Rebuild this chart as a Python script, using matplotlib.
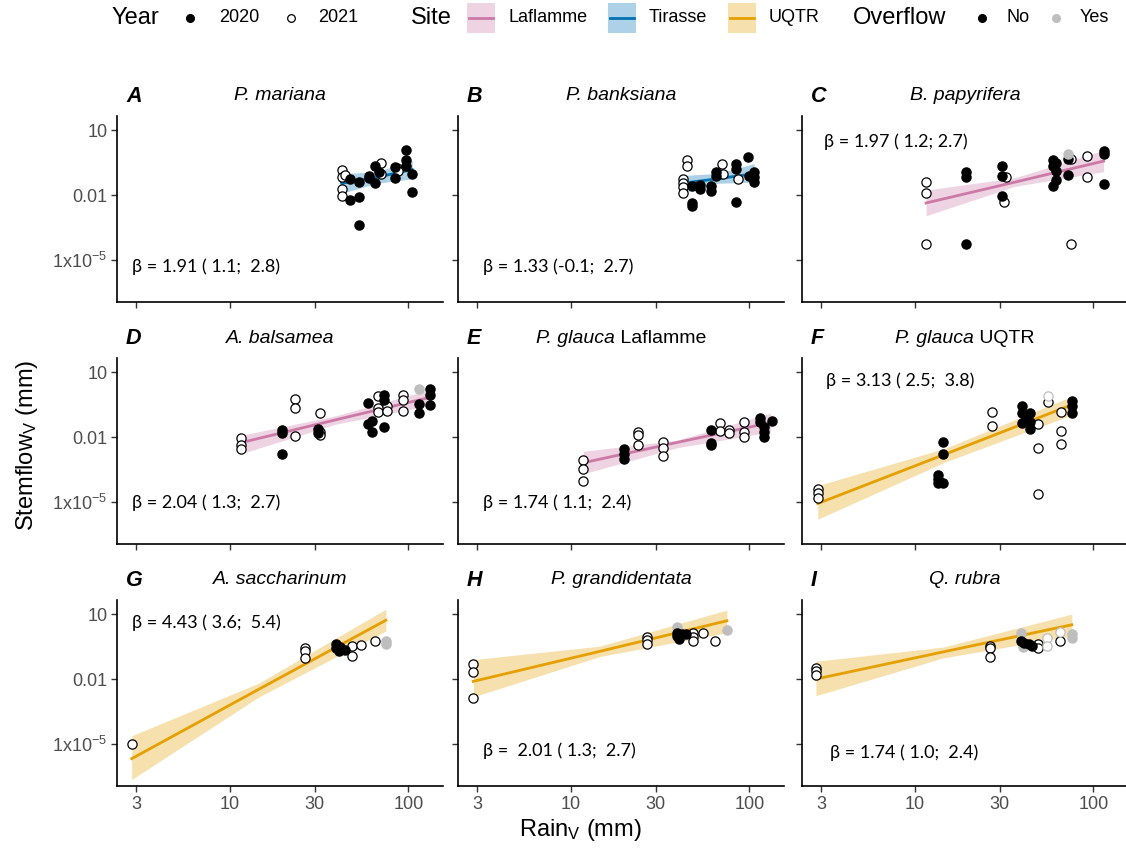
import matplotlib
matplotlib.use('Agg')
import matplotlib.pyplot as plt
from matplotlib.lines import Line2D
from matplotlib.patches import Rectangle
from matplotlib.ticker import NullLocator

plt.rcParams['font.family'] = ['Liberation Sans', 'DejaVu Sans']
plt.rcParams['mathtext.fontset'] = 'custom'
plt.rcParams['mathtext.rm'] = 'Liberation Sans'
plt.rcParams['mathtext.it'] = 'Liberation Sans:italic'
plt.rcParams['mathtext.default'] = 'regular'

SITE_COLORS = {'Laflamme': '#CC79A7', 'Tirasse': '#0072B2', 'UQTR': '#E69F00'}
GRAY = '#BEBEBE'

# --- A: P. mariana (Tirasse)
a_rain = [42.3, 42.3, 44.0, 42.3, 42.3, 70.5, 70.5, 86.1, 87.9,
          47.4, 52.7, 47.4, 52.7, 52.7, 60.4, 60.4, 65.3, 65.3, 68.1, 83.6, 83.6, 96.6, 96.6, 96.6, 105, 105]
a_flow = [0.146, 0.066, 0.085, 0.019, 0.0093, 0.31, 0.095, 0.18, 0.135,
          0.054, 0.042, 0.0059, 0.0078, 0.0004, 0.079, 0.062, 0.21, 0.037, 0.114, 0.195, 0.062, 1.17, 0.43, 0.21, 0.096, 0.014]
a_year = [2021] * 9 + [2020] * 17
a_over = [0] * 26
a_fit_x = [42.3, 66.7, 105]
a_fit = [0.035, 0.066, 0.15]
a_lo = [0.012, 0.035, 0.056]
a_hi = [0.096, 0.12, 0.40]

# --- B: P. banksiana (Tirasse)
b_rain = [44.5, 44.5, 42.3, 42.3, 42.3, 42.3, 70.5, 71, 86.5,
          48, 48, 48, 52.7, 52.7, 60.7, 60.7, 64.7, 64.7, 83.6, 83.6, 83.6, 97.9, 106, 106, 106, 99]
b_flow = [0.43, 0.23, 0.056, 0.035, 0.023, 0.012, 0.28, 0.095, 0.056,
          0.027, 0.0032, 0.0041, 0.030, 0.019, 0.027, 0.016, 0.115, 0.072, 0.26, 0.16, 0.005, 0.57, 0.12, 0.066, 0.039, 0.079]
b_year = [2021] * 9 + [2020] * 17
b_over = [0] * 26
b_fit_x = [42.3, 66.7, 106]
b_fit = [0.035, 0.057, 0.096]
b_lo = [0.012, 0.035, 0.039]
b_hi = [0.08, 0.10, 0.28]

# --- C: B. papyrifera (Laflamme)
c_rain = [11.6, 11.6, 11.6, 32.3, 31.8, 75.2, 74.6, 91.8, 91.8,
          19.5, 19.5, 19.5, 31, 31, 31, 59.4, 59.4, 59.4, 62.1, 62.1, 62.1, 72, 72, 114, 114, 114,
          72]
c_flow = [0.039, 0.012, 5.7e-5, 0.071, 0.0046, 0.44, 5.7e-5, 0.61, 0.071,
          0.115, 0.066, 5.7e-5, 0.22, 0.079, 0.0093, 0.43, 0.23, 0.027, 0.30, 0.135, 0.05, 0.44, 0.085, 1.1, 0.76, 0.032,
          0.76]
c_year = [2021] * 9 + [2020] * 17 + [2020]
c_over = [0] * 26 + [1]
c_fit_x = [11.6, 36.2, 114]
c_fit = [0.0043, 0.039, 0.37]
c_lo = [0.0011, 0.025, 0.12]
c_hi = [0.017, 0.062, 1.17]

# --- D: A. balsamea (Laflamme)
d_rain = [11.6, 11.6, 11.6, 23.3, 23.3, 23.3, 32.1, 32.1, 32.1, 68, 68, 68, 75.7, 75.7, 93, 93, 93,
          19.6, 19.6, 19.6, 31.4, 31.4, 59.8, 59.8, 62.4, 62.4, 73.1, 73.1, 73.1, 115, 115, 132, 132, 132,
          115]
d_flow = [0.0091, 0.0045, 0.0029, 0.59, 0.23, 0.011, 0.126, 0.017, 0.012, 0.76, 0.23, 0.15, 0.26, 0.16, 0.91, 0.53, 0.16,
          0.021, 0.015, 0.0017, 0.023, 0.015, 0.37, 0.039, 0.055, 0.017, 0.85, 0.53, 0.030, 0.35, 0.126, 1.7, 0.85, 0.31,
          1.66]
d_year = [2021] * 17 + [2020] * 17 + [2020]
d_over = [0] * 34 + [1]
d_fit_x = [11.6, 39.1, 132]
d_fit = [0.0055, 0.062, 0.68]
d_lo = [0.0017, 0.039, 0.29]
d_hi = [0.012, 0.095, 1.55]

# --- E: P. glauca Laflamme
e_rain = [11.8, 11.8, 11.8, 23.7, 23.7, 23.7, 32.7, 32.7, 32.7, 68.4, 68.4, 76.7, 76.7, 93.8, 93.8, 93.8,
          19.8, 19.8, 19.8, 60.7, 60.7, 60.7, 115, 115, 120, 120, 120, 134]
e_flow = [0.00083, 0.00035, 9.1e-5, 0.018, 0.013, 0.0045, 0.006, 0.003, 0.0013, 0.046, 0.019, 0.021, 0.015, 0.052, 0.017, 0.010,
          0.0027, 0.0017, 0.001, 0.021, 0.0055, 0.0045, 0.079, 0.052, 0.030, 0.017, 0.010, 0.055]
e_year = [2021] * 16 + [2020] * 12
e_over = [0] * 28
e_fit_x = [11.8, 39.3, 131]
e_fit = [0.00065, 0.0056, 0.046]
e_lo = [0.0002, 0.0032, 0.017]
e_hi = [0.0022, 0.0071, 0.126]

# --- F: P. glauca UQTR
f_rain = [2.88, 2.88, 2.88, 27, 27, 49.3, 49.3, 49.3, 55.6, 65.9, 65.9, 65.9,
          55.6,
          14.4, 14.4, 13.5, 13.5, 13.5, 14.4, 40.1, 40.1, 40.1, 42.2, 44.4, 44.4, 44.4, 75.9, 75.9, 75.9]
f_flow = [4e-5, 2.6e-5, 1.6e-5, 0.15, 0.033, 0.040, 0.0032, 2.3e-5, 0.40, 0.15, 0.019, 0.005,
          0.76,
          0.006, 0.0017, 0.00018, 0.00012, 7.6e-5, 7.6e-5, 0.26, 0.135, 0.046, 0.066, 0.126, 0.052, 0.023, 0.44, 0.28, 0.135]
f_year = [2021] * 13 + [2020] * 16
f_over = [0] * 12 + [1] + [0] * 16
f_fit_x = [2.88, 14.8, 75.9]
f_fit = [8.5e-6, 0.0016, 0.31]
f_lo = [1.6e-6, 0.0007, 0.105]
f_hi = [5.7e-5, 0.003, 0.76]

# --- G: A. saccharinum (UQTR)
g_rain = [2.84, 26.4, 26.4, 26.4, 48.4, 48.4, 54.6, 64.7,
          74.8, 74.8,
          39.6, 39.6, 40.8, 44.1, 41.5]
g_flow = [9.8e-6, 0.26, 0.19, 0.095, 0.33, 0.112, 0.37, 0.56,
          0.56, 0.40,
          0.40, 0.26, 0.19, 0.23, 0.30]
g_year = [2021] * 8 + [2020] * 7
g_over = [0] * 8 + [1, 1] + [0] * 5
g_fit_x = [2.84, 14.6, 74.8]
g_fit = [2.1e-6, 0.0034, 5.2]
g_lo = [2.3e-7, 0.0015, 1.66]
g_hi = [2.4e-5, 0.0065, 17]

# --- H: P. grandidentata (UQTR)
h_rain = [2.86, 2.86, 2.86, 26.6, 26.6, 26.6, 48.5, 48.5, 48.5, 54.8, 64.6,
          39.5, 74.8,
          39.5, 39.5, 40.4, 42.2, 44]
h_flow = [0.05, 0.021, 0.0013, 0.87, 0.61, 0.43, 1.38, 0.87, 0.56, 1.38, 0.56,
          2.4, 1.86,
          1.38, 0.97, 0.68, 1.26, 1.17]
h_year = [2021] * 11 + [2020] * 7
h_over = [0] * 11 + [1, 1] + [0] * 5
h_fit_x = [2.86, 14.6, 74.8]
h_fit = [0.0078, 0.19, 4.9]
h_lo = [0.0015, 0.11, 1.38]
h_hi = [0.079, 0.33, 15.4]

# --- I: Q. rubra (UQTR)
i_rain = [2.81, 2.81, 2.81, 26.5, 26.5, 26.5, 48.7, 48.7, 65.2,
          55, 55, 65.2,
          39.5, 40.2, 75.7, 75.7,
          39.5, 40.7, 43.8, 45.3]
i_flow = [0.032, 0.023, 0.015, 0.33, 0.26, 0.105, 0.40, 0.26, 0.56,
          0.76, 0.33, 1.55,
          1.38, 0.3, 1.26, 0.76,
          0.56, 0.48, 0.40, 0.33]
i_year = [2021] * 12 + [2020] * 8
i_over = [0] * 9 + [1] * 7 + [0] * 4
i_fit_x = [2.81, 14.5, 75.7]
i_fit = [0.010, 0.18, 3.2]
i_lo = [0.0017, 0.095, 0.98]
i_hi = [0.066, 0.30, 10]

panels = [
    ('A', 'P. mariana', '', 'Tirasse', a_rain, a_flow, a_year, a_over, a_fit_x, a_fit, a_lo, a_hi,
     'β = 1.91 ( 1.1;  2.8)', (0.046, 0.19)),
    ('B', 'P. banksiana', '', 'Tirasse', b_rain, b_flow, b_year, b_over, b_fit_x, b_fit, b_lo, b_hi,
     'β = 1.33 (-0.1;  2.7)', (0.076, 0.19)),
    ('C', 'B. papyrifera', '', 'Laflamme', c_rain, c_flow, c_year, c_over, c_fit_x, c_fit, c_lo, c_hi,
     'β = 1.97 ( 1.2; 2.7)', (0.067, 0.86)),
    ('D', 'A. balsamea', '', 'Laflamme', d_rain, d_flow, d_year, d_over, d_fit_x, d_fit, d_lo, d_hi,
     'β = 2.04 ( 1.3;  2.7)', (0.046, 0.22)),
    ('E', 'P. glauca', 'Laflamme', 'Laflamme', e_rain, e_flow, e_year, e_over, e_fit_x, e_fit, e_lo, e_hi,
     'β = 1.74 ( 1.1;  2.4)', (0.076, 0.22)),
    ('F', 'P. glauca', 'UQTR', 'UQTR', f_rain, f_flow, f_year, f_over, f_fit_x, f_fit, f_lo, f_hi,
     'β = 3.13 ( 2.5;  3.8)', (0.074, 0.88)),
    ('G', 'A. saccharinum', '', 'UQTR', g_rain, g_flow, g_year, g_over, g_fit_x, g_fit, g_lo, g_hi,
     'β = 4.43 ( 3.6;  5.4)', (0.046, 0.876)),
    ('H', 'P. grandidentata', '', 'UQTR', h_rain, h_flow, h_year, h_over, h_fit_x, h_fit, h_lo, h_hi,
     'β =  2.01 ( 1.3;  2.7)', (0.076, 0.19)),
    ('I', 'Q. rubra', '', 'UQTR', i_rain, i_flow, i_year, i_over, i_fit_x, i_fit, i_lo, i_hi,
     'β = 1.74 ( 1.0;  2.4)', (0.086, 0.18)),
]

W, H = 1126, 850
COL_LEFT = [117, 458, 802]
ROW_TOP = [116, 358, 600]
AX_W, AX_H = 326, 186

fig = plt.figure(figsize=(W / 100, H / 100), dpi=100)
renderer = fig.canvas.get_renderer()

for k, p in enumerate(panels):
    letter, sp_it, sp_rm, site, rain, flow, year, over, fx, fy, flo, fhi, beta, bpos = p
    r, c = divmod(k, 3)
    left, top = COL_LEFT[c], ROW_TOP[r]
    ax = fig.add_axes([left / W, 1 - (top + AX_H) / H, AX_W / W, AX_H / H])
    col = SITE_COLORS[site]

    ax.fill_between(fx, flo, fhi, color=col, alpha=0.32, lw=0, zorder=1)
    ax.plot(fx, fy, color=col, lw=2.0, zorder=2)

    for yr, ov, xv, yv in zip(year, over, rain, flow):
        edge = GRAY if ov else 'black'
        face = edge if yr == 2020 else 'white'
        ax.scatter([xv], [yv], s=44, facecolor=face, edgecolor=edge, linewidths=0.9, zorder=3)

    ax.set_xscale('log')
    ax.set_yscale('log')
    ax.set_xlim(2.35, 156)
    ax.set_ylim(10 ** -6.94, 10 ** 1.65)
    ax.set_xticks([3, 10, 30, 100])
    ax.set_yticks([1e-5, 0.01, 10])
    ax.xaxis.set_minor_locator(NullLocator())
    ax.yaxis.set_minor_locator(NullLocator())
    if r == 2:
        ax.set_xticklabels(['3', '10', '30', '100'])
    else:
        ax.set_xticklabels([])
    if c == 0:
        ax.set_yticklabels(['1x10$^{-5}$', '0.01', '10'])
    else:
        ax.set_yticklabels([])
    ax.tick_params(direction='out', length=4, width=1, color='#333333',
                   labelsize=13, labelcolor='#4D4D4D', pad=3)
    for s in ['top', 'right']:
        ax.spines[s].set_visible(False)
    for s in ['left', 'bottom']:
        ax.spines[s].set_linewidth(1.2)

    ax.text(bpos[0], bpos[1], beta, transform=ax.transAxes, fontsize=13,
            family=['Lato', 'DejaVu Sans'], va='center', ha='left')

    ty = 1 - 96 / H - r * 242 / H
    fig.text((left + 9) / W, ty, letter, fontsize=15.5,
             fontweight='bold', fontstyle='italic', va='center', ha='left')

    # species title: italic part plus optional roman part, centred over the panel
    cx = (left + AX_W / 2) / W
    t1 = fig.text(cx, ty, sp_it, fontsize=14, fontstyle='italic', va='center', ha='left')
    w1 = t1.get_window_extent(renderer).width / W
    if sp_rm:
        t2 = fig.text(cx, ty, ' ' + sp_rm, fontsize=14, va='center', ha='left')
        w2 = t2.get_window_extent(renderer).width / W
        t1.set_x(cx - (w1 + w2) / 2)
        t2.set_x(cx - (w1 + w2) / 2 + w1)
    else:
        t1.set_x(cx - w1 / 2)

fig.text(27 / W, 1 - 445 / H, 'Stemflow$_V$ (mm)', rotation=90, fontsize=17,
         va='center', ha='center')
fig.text(580 / W, 1 - 830 / H, 'Rain$_V$ (mm)', fontsize=17, va='center', ha='center')

# --- legend row at top
ly = 1 - 18 / H


def fx_(px):
    return px / W


fig.text(fx_(111), ly, 'Year', fontsize=17, va='center', ha='left')
fig.add_artist(Line2D([fx_(190)], [ly], marker='o', ms=5.5, color='black', lw=0,
                      transform=fig.transFigure))
fig.text(fx_(219), ly, '2020', fontsize=13, va='center', ha='left')
fig.add_artist(Line2D([fx_(291)], [ly], marker='o', ms=5.5, mfc='white', mec='black', mew=0.9, lw=0,
                      transform=fig.transFigure))
fig.text(fx_(318), ly, '2021', fontsize=13, va='center', ha='left')

fig.text(fx_(411), ly, 'Site', fontsize=17, va='center', ha='left')
for x0, name in [(467, 'Laflamme'), (608, 'Tirasse'), (728, 'UQTR')]:
    col = SITE_COLORS[name]
    fig.add_artist(Rectangle((fx_(x0), ly - 15 / H), 28 / W, 30 / H, color=col, alpha=0.32, lw=0,
                             transform=fig.transFigure))
    fig.add_artist(Line2D([fx_(x0 + 2), fx_(x0 + 26)], [ly, ly], color=col, lw=2.0,
                          transform=fig.transFigure))
    fig.text(fx_(x0 + 41), ly, name, fontsize=13, va='center', ha='left')

fig.text(fx_(853), ly, 'Overflow', fontsize=17, va='center', ha='left')
fig.add_artist(Line2D([fx_(982)], [ly], marker='o', ms=5.5, color='black', lw=0,
                      transform=fig.transFigure))
fig.text(fx_(1006), ly, 'No', fontsize=13, va='center', ha='left')
fig.add_artist(Line2D([fx_(1056)], [ly], marker='o', ms=5.5, color=GRAY, lw=0,
                      transform=fig.transFigure))
fig.text(fx_(1080), ly, 'Yes', fontsize=13, va='center', ha='left')

fig.savefig('out.png', dpi=100)
